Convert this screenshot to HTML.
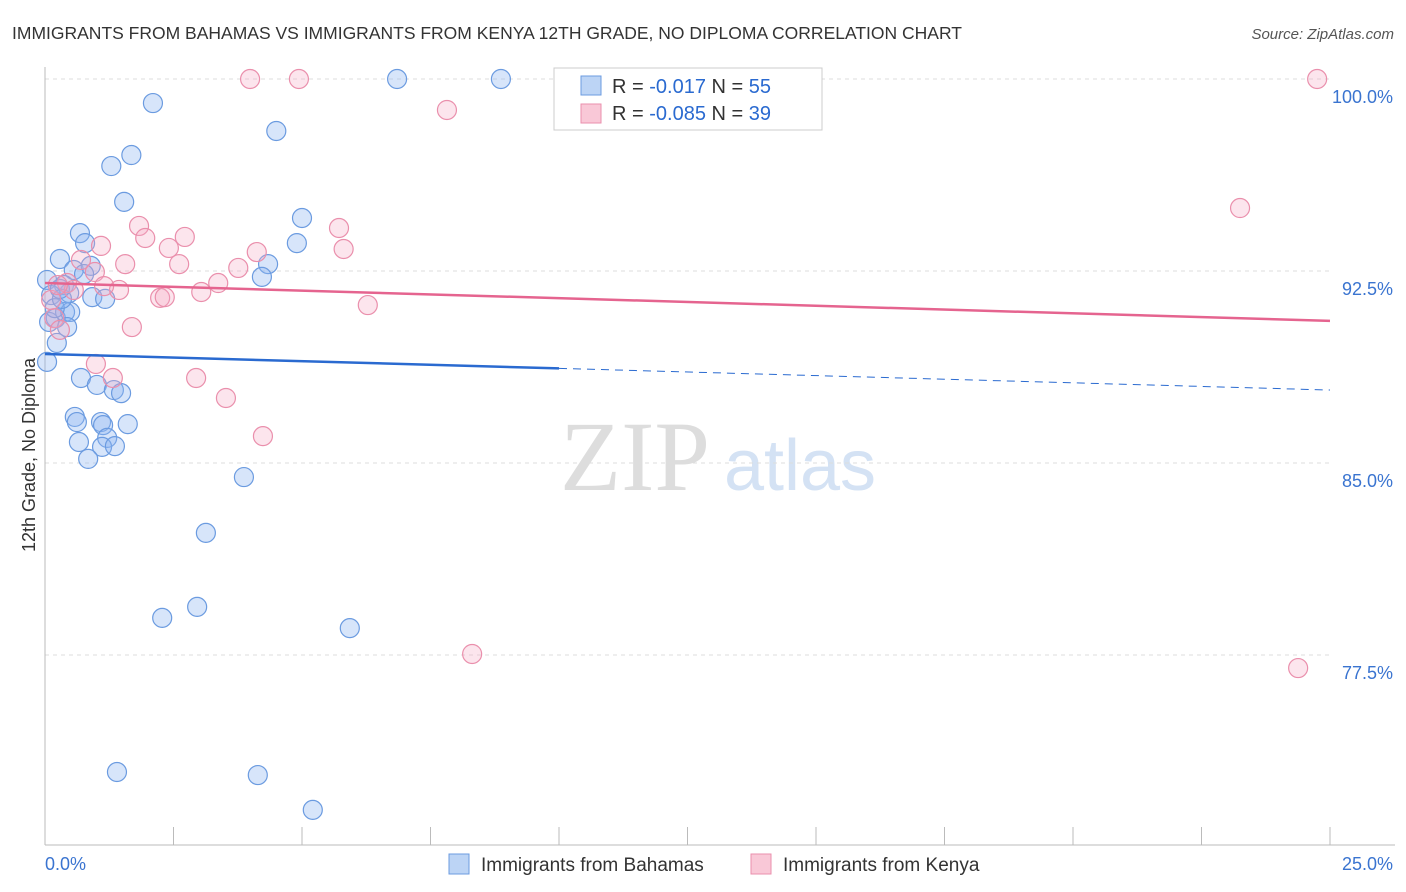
<!DOCTYPE html>
<html><head><meta charset="utf-8"><style>
body{margin:0;background:#fff;font-family:"Liberation Sans",sans-serif}
svg{display:block}
</style></head><body>
<svg id="c" width="1406" height="892">
<text x="12" y="39" font-size="17.5" fill="#333">IMMIGRANTS FROM BAHAMAS VS IMMIGRANTS FROM KENYA 12TH GRADE, NO DIPLOMA CORRELATION CHART</text>
<text x="1394" y="39" font-size="15" fill="#555" font-style="italic" text-anchor="end">Source: ZipAtlas.com</text>
<text x="35" y="455" font-size="18" fill="#333" transform="rotate(-90 35 455)" text-anchor="middle">12th Grade, No Diploma</text>
<g><text x="635" y="490" font-size="100" fill="#ddd" font-family="Liberation Serif,serif" text-anchor="middle">ZIP</text><text x="800" y="490" font-size="72" fill="#d4e2f4" text-anchor="middle">atlas</text></g>
<g id="grid"></g><g id="marks"></g>
<g>
<rect x="554" y="68" width="268" height="62" fill="#fff" stroke="#ccc"/>
<rect x="581" y="76" width="20" height="19" fill="#bcd4f5" stroke="#6b9be0"/>
<rect x="581" y="104" width="20" height="19" fill="#f9c8d7" stroke="#ea8fac"/>
<text x="612" y="93" font-size="20" fill="#333">R = <tspan fill="#2a6ad0">-0.017</tspan>   N = <tspan fill="#2a6ad0">55</tspan></text>
<text x="612" y="120" font-size="20" fill="#333">R = <tspan fill="#2a6ad0">-0.085</tspan>   N = <tspan fill="#2a6ad0">39</tspan></text>
</g>
<g>
<rect x="449" y="854" width="20" height="20" fill="#bcd4f5" stroke="#6b9be0"/>
<text x="481" y="871" font-size="19" fill="#333">Immigrants from Bahamas</text>
<rect x="751" y="854" width="20" height="20" fill="#f9c8d7" stroke="#ea8fac"/>
<text x="783" y="871" font-size="19" fill="#333">Immigrants from Kenya</text>
</g>
</svg>
<script>
const yTicks=[100,92.5,85,77.5];
const xTickLabels=["0.0%","25.0%"];
const bahamasX=[2.1,1.29,1.68,1.54,4.5,6.85,8.87,0.68,0.78,0.29,0.04,0.56,0.89,0.37,0.12,0.47,0.92,1.17,0.21,0.39,0.49,0.08,0.43,0.23,0.04,0.70,1.01,1.34,1.48,0.58,0.62,1.09,1.61,1.13,0.66,1.21,1.11,1.36,0.84,5.0,4.9,4.34,4.22,3.87,3.13,2.28,2.96,5.93,1.4,4.14,5.21,0.19,0.76,0.33,0.29];
const bahamasY=[99.06,96.6,97.03,95.2,97.97,100,100,93.98,93.59,92.97,92.15,92.54,92.7,91.95,91.56,91.64,91.48,91.41,90.66,90.9,90.9,90.51,90.31,89.69,88.95,88.32,88.05,87.85,87.73,86.8,86.6,86.6,86.52,86.48,85.82,85.98,85.63,85.66,85.16,94.57,93.59,92.77,92.27,84.45,82.27,78.95,79.38,78.55,72.93,72.81,71.45,91.05,92.38,91.41,91.8];
const kenyaX=[3.99,4.94,7.82,24.75,23.25,1.83,1.95,1.09,2.72,2.41,1.56,2.61,0.70,0.97,0.43,4.12,3.76,3.37,5.72,5.81,3.04,2.24,2.33,1.44,1.15,1.69,6.28,0.18,0.99,2.94,1.32,3.52,4.24,8.31,24.38,0.29,0.12,0.56,0.25];
const kenyaY=[100,100,98.79,100,94.96,94.26,93.79,93.48,93.83,93.4,92.77,92.77,92.93,92.46,92.03,93.24,92.62,92.03,94.18,93.36,91.68,91.45,91.48,91.76,91.91,90.31,91.17,90.66,88.87,88.32,88.32,87.54,86.05,77.54,76.99,90.2,91.37,91.76,91.95];
const trendBahamas=[89.26,87.85];const trendKenya=[92.03,90.55];
const X=v=>45+v/25*1285, Y=v=>79+(100-v)*25.6;
const ns="http://www.w3.org/2000/svg";
const svg=document.getElementById('c'),g=document.getElementById('grid'),m=document.getElementById('marks');
function mk(t,a,p){const e=document.createElementNS(ns,t);for(const k in a)e.setAttribute(k,a[k]);p.appendChild(e);return e;}
yTicks.forEach(t=>{const l=mk('line',{x1:45,x2:1330,y1:Y(t),y2:Y(t),stroke:'#ddd','stroke-dasharray':'4,4'},g);


const tx=mk('text',{x:1393,y:Y(t)+24,'font-size':18,fill:'#3a74d0','text-anchor':'end'},g);tx.textContent=t.toFixed(1)+'%';

});
mk('line',{x1:45,x2:45,y1:67,y2:845,stroke:'#bbb'},g);
mk('line',{x1:45,x2:1395,y1:845,y2:845,stroke:'#bbb'},g);
for(let i=0;i<=10;i++){mk('line',{x1:45+i*128.5,x2:45+i*128.5,y1:827,y2:845,stroke:'#bbb'},g);}
xTickLabels.forEach((s,i)=>{const tx=mk('text',{x:i?1393:45,y:870,'font-size':18,fill:'#3a74d0','text-anchor':i?'end':'start'},g);tx.textContent=s;

});
function dots(xs,ys,f,s,n){xs.forEach((x,i)=>{const c=mk('circle',{cx:X(x),cy:Y(ys[i]),r:9.5,fill:f,stroke:s,'stroke-width':1.2},m);

});}
dots(bahamasX,bahamasY,'rgba(140,180,240,0.35)','#6b9be0','bahamas-point');
dots(kenyaX,kenyaY,'rgba(245,170,195,0.3)','#ea8fac','kenya-point');
const ib=t=>trendBahamas[0]+(trendBahamas[1]-trendBahamas[0])*t/25;
let l=mk('line',{x1:X(0),y1:Y(ib(0)),x2:X(10),y2:Y(ib(10)),stroke:'#2a6ad0','stroke-width':2.5},m);


l=mk('line',{x1:X(10),y1:Y(ib(10)),x2:X(25),y2:Y(ib(25)),stroke:'#2a6ad0','stroke-width':1,'stroke-dasharray':'8,6'},m);


l=mk('line',{x1:X(0),y1:Y(trendKenya[0]),x2:X(25),y2:Y(trendKenya[1]),stroke:'#e5648f','stroke-width':2.5},m);


</script>
</body></html>
